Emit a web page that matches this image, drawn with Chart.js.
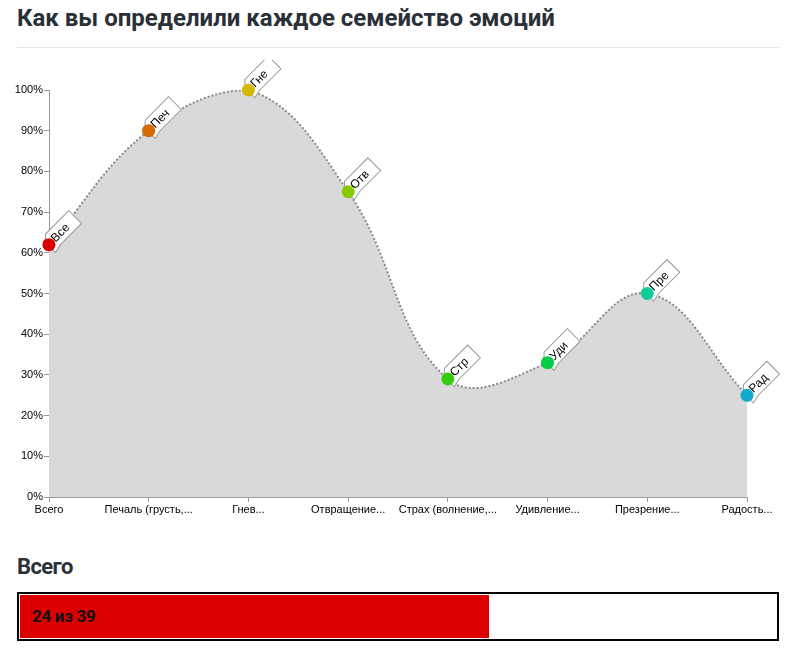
<!DOCTYPE html>
<html>
<head>
<meta charset="utf-8">
<script src="https://cdn.jsdelivr.net/npm/chart.js@4/dist/chart.umd.min.js"></script>
<style>
  html, body { margin: 0; padding: 0; background: #fff; width: 798px; height: 652px; overflow: hidden; }
  #title { position: absolute; left: 17px; top: 4px; font: bold 24px Roboto, "Liberation Sans", sans-serif; color: #2b3038; white-space: nowrap; }
  #rule { position: absolute; left: 17px; top: 47px; width: 762px; height: 1px; background: #e4e4e4; }
  #wrap { position: absolute; left: 0; top: 60px; width: 798px; height: 460px; }
  #sub { position: absolute; left: 17px; top: 554px; font: bold 22px Roboto, "Liberation Sans", sans-serif; color: #2b3038; letter-spacing: -0.6px; }
  #barbox { position: absolute; left: 17px; top: 592px; width: 758px; height: 45px; border: 2px solid #000; }
  #barfill { position: absolute; left: 1px; top: 1px; height: 43px; background: #dd0000; }
  #bartext { position: absolute; left: 13px; top: 0; font: bold 17px Roboto, "Liberation Sans", sans-serif; line-height: 45px; color: #111; letter-spacing: -0.3px; }
</style>
</head>
<body>
<div id="title">Как вы определили каждое семейство эмоций</div>
<div id="rule"></div>
<div id="wrap"><canvas id="c"></canvas></div>
<div id="sub">Всего</div>
<div id="barbox"><div id="barfill"></div><div id="bartext"></div></div>
<script>
const categories = ["Всего", "Печаль (грусть,...", "Гнев...", "Отвращение...", "Страх (волнение,...", "Удивление...", "Презрение...", "Радость..."];
const tagLabels = ["Все", "Печ", "Гне", "Отв", "Стр", "Уди", "Пре", "Рад"];
const percentValues = [62, 90, 100, 75, 29, 33, 50, 25];
const pointColors = ["#d90000", "#d46a00", "#d4b800", "#88cc00", "#33cc11", "#00cc44", "#11cc99", "#11aacc"];
const totalCorrect = 24;
const totalQuestions = 39;

document.getElementById('bartext').textContent = totalCorrect + " из " + totalQuestions;
document.getElementById('barfill').style.width = Math.round(762 * totalCorrect / totalQuestions) + "px";

const tagPlugin = {
  id: 'tags',
  afterDatasetsDraw(chart) {
    const meta = chart.getDatasetMeta(1);
    const ctx = chart.ctx;
    meta.data.forEach((pt, i) => {
      ctx.save();
      ctx.translate(pt.x, pt.y);
      ctx.rotate(-Math.PI / 4);
      ctx.beginPath();
      ctx.moveTo(-1, -4);
      ctx.lineTo(5, -10);
      ctx.lineTo(38, -10);
      ctx.lineTo(38, 8);
      ctx.lineTo(8, 8);
      ctx.lineTo(-1, 10);
      ctx.closePath();
      ctx.fillStyle = '#fff';
      ctx.fill();
      ctx.strokeStyle = '#999';
      ctx.lineWidth = 1;
      ctx.stroke();
      ctx.fillStyle = '#000';
      ctx.font = '12px "Liberation Sans", Arial, sans-serif';
      ctx.textBaseline = 'middle';
      ctx.fillText(tagLabels[i], 6, 0);
      ctx.restore();
    });
    meta.data.forEach(pt => pt.draw(ctx));
  }
};

new Chart(document.getElementById('c'), {
  type: 'line',
  data: {
    labels: categories,
    datasets: [
      {
        data: percentValues,
        fill: 'origin',
        backgroundColor: '#d9d9d9',
        borderColor: '#8a8a8a',
        borderWidth: 2,
        borderDash: [2, 2],
        tension: 0.4,
        pointRadius: 0,
        pointHoverRadius: 0
      },
      {
        data: percentValues,
        showLine: false,
        fill: false,
        pointRadius: 6.5,
        pointHoverRadius: 6.5,
        pointBackgroundColor: pointColors,
        pointBorderColor: pointColors,
        pointBorderWidth: 0
      }
    ]
  },
  options: {
    responsive: true,
    maintainAspectRatio: false,
    animation: false,
    layout: { padding: { left: 0, right: 51, top: 30, bottom: 0 } },
    plugins: { legend: { display: false }, tooltip: { enabled: false } },
    scales: {
      x: {
        offset: false,
        grid: { drawOnChartArea: false, drawTicks: true, tickLength: 5, tickColor: '#999' },
        border: { display: true, color: '#999' },
        ticks: { color: '#000', font: { family: '"Liberation Sans", Arial, sans-serif', size: 11 }, padding: 1, maxRotation: 0, autoSkip: false },
        afterFit(s) { s.height = 23; }
      },
      y: {
        min: 0, max: 100,
        grid: { drawOnChartArea: false, drawTicks: true, tickLength: 5, tickColor: '#999' },
        border: { display: true, color: '#999' },
        ticks: { stepSize: 10, color: '#000', font: { family: '"Liberation Sans", Arial, sans-serif', size: 11 }, padding: 1, callback: v => v + '%' },
        afterFit(s) { s.width = 49; }
      }
    }
  },
  plugins: [tagPlugin]
});
</script>
</body>
</html>
